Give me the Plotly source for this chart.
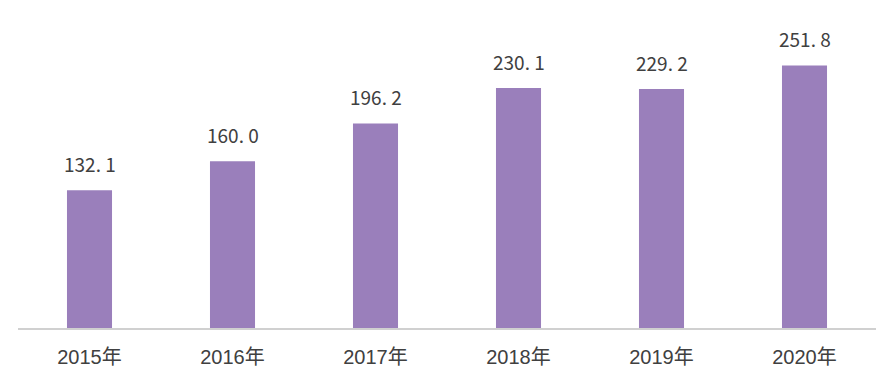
import plotly.graph_objects as go

years = ["2015年", "2016年", "2017年", "2018年", "2019年", "2020年"]
values = [132.1, 160.0, 196.2, 230.1, 229.2, 251.8]
labels = ["132. 1", "160. 0", "196. 2", "230. 1", "229. 2", "251. 8"]

fig = go.Figure()
fig.add_trace(go.Bar(x=years, y=values, marker=dict(color="#9a7fbb", line=dict(width=0)),
                     hoverinfo="skip"))

for x, v, t in zip(years, values, labels):
    fig.add_annotation(x=x, y=v, text=t, showarrow=False, yanchor="bottom", yshift=11,
                       font=dict(family="Noto Sans CJK SC, Liberation Sans", size=19, color="#404040"))

fig.update_layout(
    width=895, height=387,
    margin=dict(l=18, r=19, t=36, b=59),
    paper_bgcolor="white", plot_bgcolor="white",
    bargap=0.685,
    showlegend=False,
    font=dict(family="Liberation Sans, Noto Sans CJK SC", color="#404040"),
)
fig.update_xaxes(showline=True, linecolor="#d0d0d0", linewidth=1.5, ticks="",
                 ticklabelstandoff=10, tickfont=dict(size=20, color="#404040"),
                 showgrid=False)
fig.update_yaxes(range=[0, 280], visible=False, showgrid=False)

fig.write_html("out.html")
